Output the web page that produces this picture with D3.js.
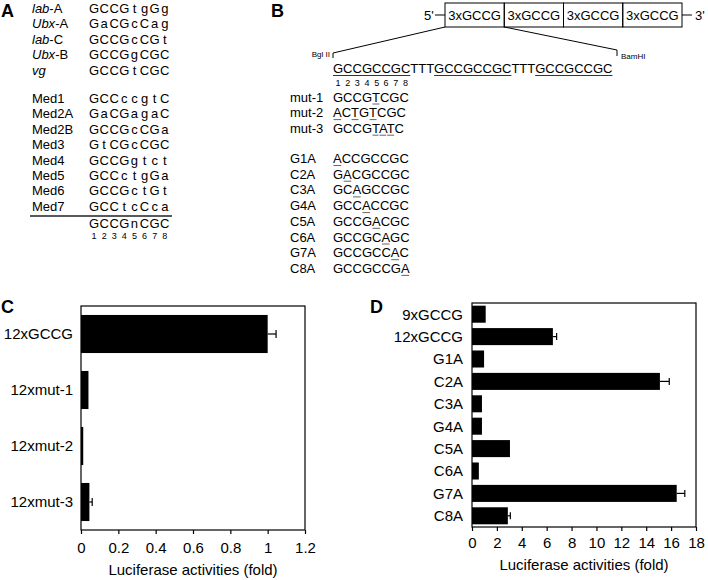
<!DOCTYPE html>
<html>
<head>
<meta charset="utf-8">
<title>GCCG reporter figure</title>
<script src="https://cdn.jsdelivr.net/npm/d3@7"></script>
<style>
  body { margin: 0; background: #fff; }
  svg text { font-family: "Liberation Sans", Arial, Helvetica, sans-serif; fill: #000; }
</style>
</head>
<body>
<svg width="708" height="580"></svg>
<script>
// ---- panel A data ----
var aNames = [["lab", "-A"], ["Ubx", "-A"], ["lab", "-C"], ["Ubx", "-B"], ["vg", ""]];
var aSeqs = ["GCCGtgGg", "GaCGcCag", "GCCGcCGt", "GCCGgCGC", "GCCGtCGC"];
var medNames = ["Med1", "Med2A", "Med2B", "Med3", "Med4", "Med5", "Med6", "Med7"];
var medSeqs = ["GCCccgtC", "GaCGagaC", "GCCGcCGa", "GtCGcCGC", "GCCGgtct", "GCCctgGa", "GCCGctGt", "GCCtcCca"];
var consensus = "GCCGnCGC";

// ---- panel B data ----
var boxes = ["3xGCCG", "3xGCCG", "3xGCCG", "3xGCCG"];
var unitSeq = "GCCGCCGCTTTGCCGCCGCTTTGCCGCCGC";
var unitSites = [[0, 8], [11, 19], [22, 30]];
var mutNames = ["mut-1", "mut-2", "mut-3"];
var mutSeqs = ["GCCGTCGC", "ACTGTCGC", "GCCGTATC"];
var mutPos = [[4], [0, 2, 4], [4, 5, 6]];
var ptNames = ["G1A", "C2A", "C3A", "G4A", "C5A", "C6A", "G7A", "C8A"];
var ptSeqs = ["ACCGCCGC", "GACGCCGC", "GCAGCCGC", "GCCACCGC", "GCCGACGC", "GCCGCAGC", "GCCGCCAC", "GCCGCCGA"];
var ptPos = [[0], [1], [2], [3], [4], [5], [6], [7]];

// ---- panel C data ----
var cCats = ["12xGCCG", "12xmut-1", "12xmut-2", "12xmut-3"];
var cVals = [1.0, 0.04, 0.012, 0.045];
var cErr = [0.045, 0, 0, 0.015];
var cTicks = [0, 0.2, 0.4, 0.6, 0.8, 1, 1.2];

// ---- panel D data ----
var dCats = ["9xGCCG", "12xGCCG", "G1A", "C2A", "C3A", "G4A", "C5A", "C6A", "G7A", "C8A"];
var dVals = [1.1, 6.5, 0.97, 15.1, 0.8, 0.8, 3.05, 0.55, 16.45, 2.88];
var dErr = [0, 0.3, 0, 0.75, 0, 0, 0, 0, 0.65, 0.2];
var dTicks = [0, 2, 4, 6, 8, 10, 12, 14, 16, 18];

var svg = d3.select("svg");

function panelLetter(txt, x, y) {
  svg.append("text").attr("x", x).attr("y", y)
    .attr("font-size", 18).attr("font-weight", "bold").text(txt);
}

// ================= A =================
panelLetter("A", 1, 17);
var gA = svg.append("g");
var cell = 10.1, seqX = 89;

function cellSeq(g, s, y, size) {
  g.append("g").selectAll("text").data(s.split("")).enter().append("text")
    .attr("x", function(d, i) { return seqX + cell / 2 + i * cell; })
    .attr("y", y).attr("text-anchor", "middle")
    .attr("font-size", size).text(function(d) { return d; });
}

aNames.forEach(function(n, i) {
  var y = 12.5 + i * 15.5;
  var t = gA.append("text").attr("x", 32).attr("y", y).attr("font-size", 13);
  t.append("tspan").attr("font-style", "italic").text(n[0]);
  t.append("tspan").text(n[1]);
  cellSeq(gA, aSeqs[i], y, 13);
});
medNames.forEach(function(n, i) {
  var y = 103 + i * 15.4;
  gA.append("text").attr("x", 32).attr("y", y).attr("font-size", 13).text(n);
  cellSeq(gA, medSeqs[i], y, 13);
});
gA.append("line").attr("x1", 30).attr("x2", 172).attr("y1", 216).attr("y2", 216)
  .attr("stroke", "#222").attr("stroke-width", 1.4);
cellSeq(gA, consensus, 227.5, 13);
cellSeq(gA, "12345678", 239, 9);

// ================= B =================
panelLetter("B", 271, 17);
var gB = svg.append("g");
var bx = d3.scaleBand().domain(d3.range(boxes.length)).range([445, 682]);
var by0 = 3, by1 = 27;
gB.selectAll("rect").data(boxes).enter().append("rect")
  .attr("x", function(d, i) { return bx(i); }).attr("y", by0)
  .attr("width", bx.bandwidth()).attr("height", by1 - by0)
  .attr("fill", "none").attr("stroke", "#000").attr("stroke-width", 1);
gB.selectAll("text.box").data(boxes).enter().append("text").attr("class", "box")
  .attr("x", function(d, i) { return bx(i) + bx.bandwidth() / 2; }).attr("y", 19.5)
  .attr("text-anchor", "middle").attr("font-size", 13).text(function(d) { return d; });
gB.append("text").attr("x", 424).attr("y", 20).attr("font-size", 13).text("5'");
gB.append("line").attr("x1", 435).attr("x2", 445).attr("y1", 15).attr("y2", 15).attr("stroke", "#000");
gB.append("line").attr("x1", 682).attr("x2", 692).attr("y1", 15).attr("y2", 15).attr("stroke", "#000");
gB.append("text").attr("x", 695).attr("y", 20).attr("font-size", 13).text("3'");

// expansion lines
gB.append("path").attr("d", "M" + bx(0) + "," + by1 + "L333,53L333,58")
  .attr("fill", "none").attr("stroke", "#000").attr("stroke-width", 1);
gB.append("path").attr("d", "M" + bx(1) + "," + by1 + "L617,50L617,56")
  .attr("fill", "none").attr("stroke", "#000").attr("stroke-width", 1);
gB.append("text").attr("x", 330).attr("y", 57).attr("text-anchor", "end").attr("font-size", 8).text("Bgl II");
gB.append("text").attr("x", 621).attr("y", 59).attr("font-size", 8).text("BamHI");

var seqX2 = 333;
var unit = gB.append("text").attr("x", seqX2).attr("y", 72.5).attr("font-size", 13).text(unitSeq);
var un = unit.node();
unitSites.forEach(function(s) {
  var x1 = un.getStartPositionOfChar(s[0]).x, x2 = un.getEndPositionOfChar(s[1] - 1).x;
  gB.append("line").attr("x1", x1).attr("x2", x2).attr("y1", 75.5).attr("y2", 75.5)
    .attr("stroke", "#333").attr("stroke-width", 1);
});
d3.range(8).forEach(function(i) {
  var a = un.getStartPositionOfChar(i).x, b = un.getEndPositionOfChar(i).x;
  gB.append("text").attr("x", (a + b) / 2).attr("y", 86).attr("text-anchor", "middle")
    .attr("font-size", 9).text(i + 1);
});

function mutRow(name, seq, pos, y) {
  gB.append("text").attr("x", 290).attr("y", y).attr("font-size", 13).text(name);
  var t = gB.append("text").attr("x", seqX2).attr("y", y).attr("font-size", 13).text(seq);
  var n = t.node();
  pos.forEach(function(p) {
    var a = n.getStartPositionOfChar(p).x, b = n.getEndPositionOfChar(p).x;
    gB.append("line").attr("x1", a + 0.5).attr("x2", b - 0.5).attr("y1", y + 2.5).attr("y2", y + 2.5)
      .attr("stroke", "#666").attr("stroke-width", 1);
  });
}
mutNames.forEach(function(n, i) { mutRow(n, mutSeqs[i], mutPos[i], 101.5 + i * 15.6); });
ptNames.forEach(function(n, i) { mutRow(n, ptSeqs[i], ptPos[i], 163 + i * 15.7); });

// ================= bar charts =================
function barChart(o) {
  var g = svg.append("g");
  var x = d3.scaleLinear().domain(o.domain).range([o.x0, o.x1]);
  var y = d3.scaleBand().domain(o.cats).range([o.y0, o.y1])
    .paddingInner(o.pad).paddingOuter(o.pad / 2);

  g.selectAll("rect.bar").data(o.vals).enter().append("rect").attr("class", "bar")
    .attr("x", x(0)).attr("y", function(d, i) { return y(o.cats[i]); })
    .attr("width", function(d) { return x(d) - x(0); })
    .attr("height", y.bandwidth()).attr("fill", "#000");

  // error bars (only the part outside the bar shows)
  o.vals.forEach(function(v, i) {
    if (!o.err[i]) return;
    var cy = y(o.cats[i]) + y.bandwidth() / 2, xe = x(v + o.err[i]);
    g.append("line").attr("x1", x(v)).attr("x2", xe).attr("y1", cy).attr("y2", cy)
      .attr("stroke", "#000").attr("stroke-width", 1.2);
    g.append("line").attr("x1", xe).attr("x2", xe).attr("y1", cy - o.cap).attr("y2", cy + o.cap)
      .attr("stroke", "#000").attr("stroke-width", 1.2);
  });

  g.append("rect").attr("x", o.x0).attr("y", o.y0)
    .attr("width", o.x1 - o.x0).attr("height", o.y1 - o.y0)
    .attr("fill", "none").attr("stroke", "#000").attr("stroke-width", 1.2);

  g.selectAll("text.cat").data(o.cats).enter().append("text").attr("class", "cat")
    .attr("x", o.x0 - o.labGap).attr("y", function(d) { return y(d) + y.bandwidth() / 2; })
    .attr("dy", "0.36em").attr("text-anchor", "end").attr("font-size", 15)
    .text(function(d) { return d; });

  var ax = g.append("g").attr("transform", "translate(0," + o.y1 + ")")
    .call(d3.axisBottom(x).tickValues(o.ticks).tickFormat(d3.format("~g"))
      .tickSize(4).tickSizeOuter(0).tickPadding(o.tickPad));
  ax.select(".domain").remove();
  ax.selectAll("line").attr("stroke", "#000").attr("stroke-width", 1.2);
  ax.selectAll("text").attr("font-size", 15).attr("font-family", null);

  g.append("text").attr("x", (o.x0 + o.x1) / 2).attr("y", o.titleY)
    .attr("text-anchor", "middle").attr("font-size", 15).text("Luciferase activities (fold)");
}

panelLetter("C", 1, 313);
barChart({ cats: cCats, vals: cVals, err: cErr, ticks: cTicks, domain: [0, 1.2],
  x0: 81, x1: 305, y0: 306, y1: 530, pad: 0.32, cap: 4, labGap: 8, tickPad: 8, titleY: 575 });

panelLetter("D", 370, 313);
barChart({ cats: dCats, vals: dVals, err: dErr, ticks: dTicks, domain: [0, 18],
  x0: 472, x1: 696, y0: 303, y1: 527, pad: 0.24, cap: 3.5, labGap: 9, tickPad: 6, titleY: 570 });
</script>
</body>
</html>
